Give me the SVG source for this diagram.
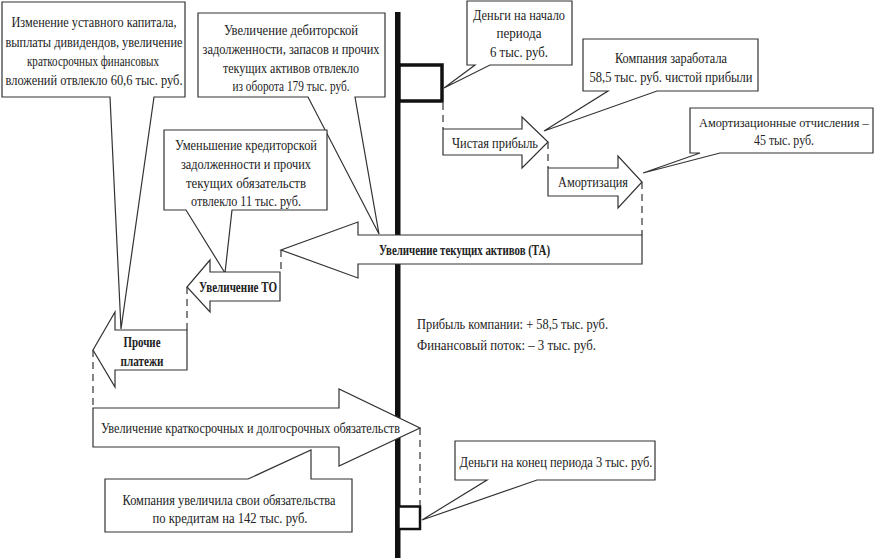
<svg xmlns="http://www.w3.org/2000/svg" width="876" height="558" viewBox="0 0 876 558">
<style>
.co{fill:#fff;stroke:#333;stroke-width:1.2}
.ar{fill:#fff;stroke:#333;stroke-width:1.2}
.ds{fill:none;stroke:#333;stroke-width:1.2;stroke-dasharray:7,5}
text{font-family:"Liberation Serif","Times New Roman",serif;font-size:15px;fill:#222}
.c{text-anchor:middle}
.b{font-weight:bold;font-size:14px}
.s{font-size:12.3px}
</style>
<rect width="876" height="558" fill="#fff"/>
<g id="axis">
<rect x="395" y="12" width="5.5" height="546" fill="#111"/>
<rect x="399" y="65" width="43" height="36" fill="#fff" stroke="#111" stroke-width="3.5"/>
<rect x="398.5" y="506.5" width="21.5" height="22.5" fill="#fff" stroke="#111" stroke-width="2.5"/>
</g>
<g id="connectors">
<line class="ds" x1="443" y1="103" x2="443" y2="129"/>
<line class="ds" x1="548" y1="142" x2="548" y2="168"/>
<line class="ds" x1="642" y1="182" x2="642" y2="235"/>
<line class="ds" x1="281" y1="250" x2="281" y2="272"/>
<line class="ds" x1="187" y1="287" x2="187" y2="330"/>
<line class="ds" x1="93" y1="350" x2="93" y2="408"/>
<line class="ds" x1="420" y1="428" x2="420" y2="506"/>
</g>
<g id="callout-capital">
<path class="co" d="M2,2 H185 V97 H154 L121,329 L110,97 H2 Z"/>
<text class="c" x="94" y="27" textLength="165" lengthAdjust="spacingAndGlyphs">Изменение уставного капитала,</text>
<text class="c" x="94" y="46.5" textLength="177" lengthAdjust="spacingAndGlyphs">выплаты дивидендов, увеличение</text>
<text class="c" x="93" y="66" textLength="132" lengthAdjust="spacingAndGlyphs">краткосрочных финансовых</text>
<text class="c" x="94" y="85" textLength="177" lengthAdjust="spacingAndGlyphs">вложений отвлекло 60,6 тыс. руб.</text>
</g>
<g id="callout-receivables">
<path class="co" d="M198,13 H385 V97 H355 L379,234 L308,97 H198 Z"/>
<text class="c" x="291" y="35" textLength="134" lengthAdjust="spacingAndGlyphs">Увеличение дебиторской</text>
<text class="c" x="291" y="54" textLength="177" lengthAdjust="spacingAndGlyphs">задолженности, запасов и прочих</text>
<text class="c" x="291" y="72.5" textLength="136" lengthAdjust="spacingAndGlyphs">текущих активов отвлекло</text>
<text class="c" x="291" y="91" textLength="117" lengthAdjust="spacingAndGlyphs">из оборота 179 тыс. руб.</text>
</g>
<g id="callout-payables">
<path class="co" d="M164,130 H327 V210 H232 L225,273 L186,210 H164 Z"/>
<text class="c" x="246" y="149.5" textLength="142" lengthAdjust="spacingAndGlyphs">Уменьшение кредиторской</text>
<text class="c" x="246" y="169" textLength="130" lengthAdjust="spacingAndGlyphs">задолженности и прочих</text>
<text class="c" x="246" y="187.5" textLength="120" lengthAdjust="spacingAndGlyphs">текущих обязательств</text>
<text class="c" x="246" y="206" textLength="110" lengthAdjust="spacingAndGlyphs">отвлекло 11 тыс. руб.</text>
</g>
<g id="callout-start-cash">
<path class="co" d="M467,1 H572 V65 H490 L444,88 L475,65 H467 Z"/>
<text class="c" x="519" y="19.5" textLength="92" lengthAdjust="spacingAndGlyphs">Деньги на начало</text>
<text class="c" x="519" y="37.5" textLength="45" lengthAdjust="spacingAndGlyphs">периода</text>
<text class="c" x="519" y="56.5" textLength="58" lengthAdjust="spacingAndGlyphs">6 тыс. руб.</text>
</g>
<g id="callout-profit">
<path class="co" d="M583,39 H758 V91 H657 L544,131 L608,91 H583 Z"/>
<text class="c" x="671" y="62.5" textLength="112" lengthAdjust="spacingAndGlyphs">Компания заработала</text>
<text class="c" x="671" y="81.5" textLength="163" lengthAdjust="spacingAndGlyphs">58,5 тыс. руб. чистой прибыли</text>
</g>
<g id="callout-depreciation">
<path class="co" d="M690,108 H873 V153 H720 L643,173 L700,153 H690 Z"/>
<text class="s" x="699" y="127">Амортизационные отчисления –</text>
<text class="c" x="784" y="145" textLength="60" lengthAdjust="spacingAndGlyphs">45 тыс. руб.</text>
</g>
<g id="callout-liabilities">
<path class="co" d="M105,479 H248 L311,450 V479 H352 V532 H105 Z"/>
<text class="c" x="229" y="504.5" textLength="213" lengthAdjust="spacingAndGlyphs">Компания увеличила свои обязательства</text>
<text class="c" x="230" y="522.5" textLength="155" lengthAdjust="spacingAndGlyphs">по кредитам на 142 тыс. руб.</text>
</g>
<g id="callout-end-cash">
<path class="co" d="M455,441 H655 V480 H537 L422,520 L487,480 H455 Z"/>
<text class="c" x="556" y="466.5" textLength="193" lengthAdjust="spacingAndGlyphs">Деньги на конец периода 3 тыс. руб.</text>
</g>
<g id="arrow-net-profit">
<path class="ar" d="M443,129 H522 V117 L548,142 L522,168 V155 H443 Z"/>
<text x="452" y="147.5" textLength="86" lengthAdjust="spacingAndGlyphs">Чистая прибыль</text>
</g>
<g id="arrow-depreciation">
<path class="ar" d="M548,168 H618 V156 L642,182 L618,208 V196 H548 Z"/>
<text x="558" y="186.5" textLength="70" lengthAdjust="spacingAndGlyphs">Амортизация</text>
</g>
<g id="arrow-current-assets">
<path class="ar" d="M642,235 H358 V222 L281,250 L358,278 V264 H642 Z"/>
<text class="b" x="379" y="254.5" textLength="171" lengthAdjust="spacingAndGlyphs">Увеличение текущих активов (ТА)</text>
</g>
<g id="arrow-current-liabilities">
<path class="ar" d="M280,272 H210 V260 L187,287 L210,312 V301 H280 Z"/>
<text class="b" x="199" y="291.5" textLength="78" lengthAdjust="spacingAndGlyphs">Увеличение ТО</text>
</g>
<g id="arrow-other-payments">
<path class="ar" d="M187,330 H115 V312 L93,350 L115,387 V370 H187 Z"/>
<text class="b c" x="142" y="346.5" textLength="37" lengthAdjust="spacingAndGlyphs">Прочие</text>
<text class="b c" x="142" y="366" textLength="43" lengthAdjust="spacingAndGlyphs">платежи</text>
</g>
<g id="arrow-liabilities">
<path class="ar" d="M93,408 H339 V389 L420,428 L339,466 V447 H93 Z"/>
<text x="101" y="432.5" textLength="299" lengthAdjust="spacingAndGlyphs">Увеличение краткосрочных и долгосрочных обязательств</text>
</g>
<g id="summary">
<text x="417" y="328.5" textLength="191" lengthAdjust="spacingAndGlyphs">Прибыль компании: + 58,5 тыс. руб.</text>
<text x="417" y="350" textLength="179" lengthAdjust="spacingAndGlyphs">Финансовый поток: –  3 тыс. руб.</text>
</g>
</svg>
